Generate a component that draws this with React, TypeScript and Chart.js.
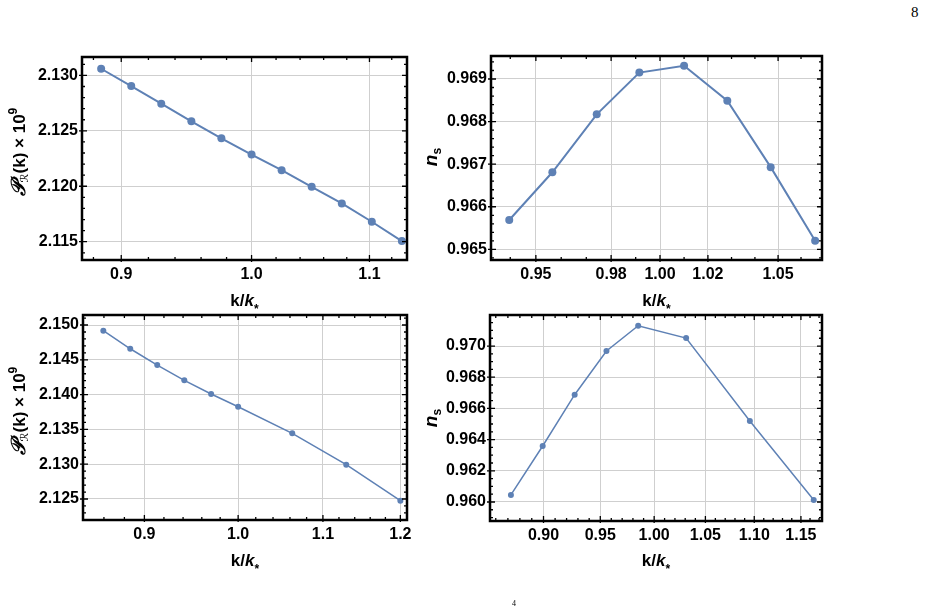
import React, { useEffect, useRef } from "react";
import { Chart, registerables } from "chart.js";
Chart.register(...registerables);

const FONT = "'Liberation Sans', Arial, Helvetica, sans-serif";
const BLUE = "#5E81B5";

// ---- data ----
const kTopPower = [0.8855, 0.9073, 0.9296, 0.9525, 0.9759, 1.0, 1.0246, 1.0498, 1.0757, 1.1021, 1.1292];
const powerTop = [2.1306, 2.12904, 2.12745, 2.12586, 2.12433, 2.12286, 2.12145, 2.11995, 2.11845, 2.1168, 2.11506];
const kTopNs = [0.9396, 0.9565, 0.9742, 0.9915, 1.01, 1.0282, 1.0468, 1.0662];
const nsTop = [0.96569, 0.96681, 0.96817, 0.96915, 0.96931, 0.96849, 0.96693, 0.9652];
const kBottomPower = [0.8594, 0.8858, 0.9131, 0.9413, 0.9701, 1.0, 1.0627, 1.1292, 1.2];
const powerBottom = [2.14918, 2.14659, 2.14425, 2.14205, 2.14009, 2.13826, 2.13444, 2.12993, 2.12476];
const kBottomNs = [0.8725, 0.8993, 0.9271, 0.9556, 0.9849, 1.0309, 1.0954, 1.1641];
const nsBottom = [0.96045, 0.96359, 0.96688, 0.96968, 0.9713, 0.97051, 0.96519, 0.96013];

// ---- tick labels ----
const xTicksTopPower = ["0.9", "1.0", "1.1"];
const yTicksTopPower = ["2.115", "2.120", "2.125", "2.130"];
const xTicksTopNs = ["0.95", "0.98", "1.00", "1.02", "1.05"];
const yTicksTopNs = ["0.965", "0.966", "0.967", "0.968", "0.969"];
const xTicksBottomPower = ["0.9", "1.0", "1.1", "1.2"];
const yTicksBottomPower = ["2.125", "2.130", "2.135", "2.140", "2.145", "2.150"];
const xTicksBottomNs = ["0.90", "0.95", "1.00", "1.05", "1.10", "1.15"];
const yTicksBottomNs = ["0.960", "0.962", "0.964", "0.966", "0.968", "0.970"];

type Seg = { t: string; font: string; dy?: number };

type PanelDef = {
  box: [number, number, number, number];
  area: [number, number, number, number];
  xs: number[];
  ys: number[];
  xRange: [number, number];
  yRange: [number, number];
  xTicks: string[];
  yTicks: string[];
  xMinor: number;
  yMinor: number;
  radius: number;
  lw: number;
  yTitle: "P" | "n";
  yTitlePos: [number, number];
  xTitleY: number;
};

const panels: PanelDef[] = [
  {
    box: [0, 30, 460, 290], area: [82, 57, 407, 260],
    xs: kTopPower, ys: powerTop, xRange: [0.8719, 1.1339], yRange: [2.11335, 2.13166],
    xTicks: xTicksTopPower, yTicks: yTicksTopPower, xMinor: 0.02, yMinor: 0.001,
    radius: 4, lw: 2, yTitle: "P", yTitlePos: [25, 152], xTitleY: 306,
  },
  {
    box: [420, 30, 508, 290], area: [491, 56, 822, 260],
    xs: kTopNs, ys: nsTop, xRange: [0.93255, 1.06923], yRange: [0.96475, 0.96954],
    xTicks: xTicksTopNs, yTicks: yTicksTopNs, xMinor: 0.01, yMinor: 0.0002,
    radius: 4, lw: 2, yTitle: "n", yTitlePos: [437, 157], xTitleY: 306,
  },
  {
    box: [0, 290, 460, 300], area: [83, 315, 407, 520],
    xs: kBottomPower, ys: powerBottom, xRange: [0.84, 1.209], yRange: [2.12198, 2.15144],
    xTicks: xTicksBottomPower, yTicks: yTicksBottomPower, xMinor: 0.02, yMinor: 0.001,
    radius: 3, lw: 1.5, yTitle: "P", yTitlePos: [25, 411], xTitleY: 566,
  },
  {
    box: [420, 290, 508, 300], area: [490, 315, 822, 521],
    xs: kBottomNs, ys: nsBottom, xRange: [0.8553, 1.1733], yRange: [0.95878, 0.97199],
    xTicks: xTicksBottomNs, yTicks: yTicksBottomNs, xMinor: 0.01, yMinor: 0.0005,
    radius: 3, lw: 1.5, yTitle: "n", yTitlePos: [437, 418], xTitleY: 566,
  },
];

function drawRich(ctx: CanvasRenderingContext2D, segs: Seg[], x: number, y: number, rotate: boolean) {
  ctx.save();
  ctx.translate(x, y);
  if (rotate) ctx.rotate(-Math.PI / 2);
  let total = 0;
  const widths = segs.map((s) => {
    ctx.font = s.font;
    const w = ctx.measureText(s.t).width;
    total += w;
    return w;
  });
  let cx = -total / 2;
  ctx.textBaseline = "alphabetic";
  ctx.textAlign = "left";
  ctx.fillStyle = "#000";
  segs.forEach((s, i) => {
    ctx.font = s.font;
    ctx.fillText(s.t, cx, s.dy || 0);
    cx += widths[i];
  });
  ctx.restore();
}

const powerTitle: Seg[] = [
  { t: "𝒫", font: "bold italic 20px 'DejaVu Serif', serif", dy: 0 },
  { t: "ℛ", font: "11px 'DejaVu Sans', sans-serif", dy: 3 },
  { t: "(k) × 10", font: `bold 17px ${FONT}`, dy: 0 },
  { t: "9", font: `bold 12px ${FONT}`, dy: -8 },
];
const nsTitle: Seg[] = [
  { t: "n", font: `bold italic 19px ${FONT}`, dy: 0 },
  { t: "s", font: `bold 12px ${FONT}`, dy: 4 },
];
const kTitle: Seg[] = [
  { t: "k/", font: `bold 17px ${FONT}`, dy: 0 },
  { t: "k", font: `bold italic 17px ${FONT}`, dy: 0 },
  { t: "*", font: `bold 12px ${FONT}`, dy: 7 },
];

function minorValues(min: number, max: number, step: number) {
  const out: number[] = [];
  for (let i = Math.ceil(min / step - 1e-9); i * step <= max + 1e-12; i++) out.push(i * step);
  return out;
}

function makeDecor(p: PanelDef) {
  return {
    id: "decor",
    afterDraw(chart: any) {
      const ctx: CanvasRenderingContext2D = chart.ctx;
      const { left, top, right, bottom } = chart.chartArea;
      const sx = chart.scales.x;
      const sy = chart.scales.y;
      ctx.save();
      ctx.strokeStyle = "#000";
      ctx.lineWidth = 1.3;
      const xMaj = p.xTicks.map(Number);
      const yMaj = p.yTicks.map(Number);
      const isMaj = (arr: number[], v: number) => arr.some((m) => Math.abs(m - v) < 1e-9);
      minorValues(p.xRange[0], p.xRange[1], p.xMinor).forEach((v) => {
        if (isMaj(xMaj, v)) return;
        const px = sx.getPixelForValue(v);
        if (px < left + 2 || px > right - 2) return;
        ctx.beginPath();
        ctx.moveTo(px, bottom); ctx.lineTo(px, bottom - 3);
        ctx.moveTo(px, top); ctx.lineTo(px, top + 3);
        ctx.stroke();
      });
      xMaj.forEach((v) => {
        const px = sx.getPixelForValue(v);
        ctx.beginPath();
        ctx.moveTo(px, bottom + 2); ctx.lineTo(px, bottom - 5);
        ctx.moveTo(px, top); ctx.lineTo(px, top + 5);
        ctx.stroke();
      });
      minorValues(p.yRange[0], p.yRange[1], p.yMinor).forEach((v) => {
        if (isMaj(yMaj, v)) return;
        const py = sy.getPixelForValue(v);
        if (py < top + 2 || py > bottom - 2) return;
        ctx.beginPath();
        ctx.moveTo(left, py); ctx.lineTo(left + 3, py);
        ctx.moveTo(right, py); ctx.lineTo(right - 3, py);
        ctx.stroke();
      });
      yMaj.forEach((v) => {
        const py = sy.getPixelForValue(v);
        ctx.beginPath();
        ctx.moveTo(left - 3, py); ctx.lineTo(left + 5, py);
        ctx.moveTo(right, py); ctx.lineTo(right - 5, py);
        ctx.stroke();
      });
      ctx.lineWidth = 2.5;
      ctx.strokeRect(left, top, right - left, bottom - top);
      ctx.restore();
      const [bx, by] = p.box;
      drawRich(ctx, kTitle, (left + right) / 2, p.xTitleY - by, false);
      drawRich(ctx, p.yTitle === "P" ? powerTitle : nsTitle, p.yTitlePos[0] - bx, p.yTitlePos[1] - by, true);
    },
  };
}

function Panel({ p }: { p: PanelDef }) {
  const ref = useRef<HTMLCanvasElement | null>(null);
  useEffect(() => {
    if (!ref.current) return;
    const [bx, by, bw, bh] = p.box;
    const [l, t, r, b] = p.area;
    const yW = l - bx;
    const padTop = t - by;
    const padRight = bw - (r - bx);
    const xH = by + bh - b;
    const tickFont = { family: FONT, size: 16, weight: "bold" as const };
    const xVals = p.xTicks.map(Number);
    const yVals = p.yTicks.map(Number);
    const chart = new Chart(ref.current, {
      type: "scatter",
      data: {
        datasets: [
          {
            data: p.xs.map((x, i) => ({ x, y: p.ys[i] })),
            showLine: true,
            borderColor: BLUE,
            backgroundColor: BLUE,
            borderWidth: p.lw,
            pointRadius: p.radius,
            pointBackgroundColor: BLUE,
            pointBorderWidth: 0,
            clip: false as any,
          },
        ],
      },
      options: {
        responsive: false,
        animation: false,
        devicePixelRatio: 1,
        layout: { padding: { left: 0, top: padTop, right: padRight, bottom: 0 } },
        plugins: { legend: { display: false }, tooltip: { enabled: false } },
        scales: {
          x: {
            type: "logarithmic",
            min: p.xRange[0],
            max: p.xRange[1],
            bounds: "data",
            afterFit: (s: any) => { s.height = xH; },
            afterBuildTicks: (s: any) => { s.ticks = xVals.map((v) => ({ value: v })); },
            ticks: {
              callback: (v: any) => p.xTicks.find((t) => Math.abs(Number(t) - Number(v)) < 1e-9) ?? "",
              font: tickFont,
              color: "#000",
              padding: 5,
              autoSkip: false,
              maxRotation: 0,
            },
            grid: { color: "#cfcfcf", lineWidth: 1, drawTicks: false },
            border: { display: false },
          },
          y: {
            type: "linear",
            min: p.yRange[0],
            max: p.yRange[1],
            afterFit: (s: any) => { s.width = yW; },
            afterBuildTicks: (s: any) => { s.ticks = yVals.map((v) => ({ value: v })); },
            ticks: {
              callback: (v: any) => p.yTicks.find((t) => Math.abs(Number(t) - Number(v)) < 1e-9) ?? "",
              font: tickFont,
              color: "#000",
              padding: 4,
              autoSkip: false,
            },
            grid: { color: "#cfcfcf", lineWidth: 1, drawTicks: false },
            border: { display: false },
          },
        },
      } as any,
      plugins: [makeDecor(p)],
    });
    return () => chart.destroy();
  }, [p]);
  const [bx, by, bw, bh] = p.box;
  return (
    <canvas
      ref={ref}
      width={bw}
      height={bh}
      style={{ position: "absolute", left: bx, top: by, width: bw, height: bh }}
    />
  );
}

export default function App() {
  return (
    <div
      style={{
        position: "fixed",
        left: 0,
        top: 0,
        width: 928,
        height: 614,
        background: "#fff",
        overflow: "hidden",
      }}
    >
      {panels.map((p, i) => (
        <Panel key={i} p={p} />
      ))}
      <div
        style={{
          position: "absolute",
          left: 911,
          top: 5,
          fontFamily: "'Liberation Serif', 'DejaVu Serif', serif",
          fontSize: 15,
          lineHeight: "15px",
          color: "#000",
        }}
      >
        8
      </div>
      <div
        style={{
          position: "absolute",
          left: 512,
          top: 600,
          fontFamily: "'Liberation Serif', 'DejaVu Serif', serif",
          fontSize: 8,
          lineHeight: "8px",
          color: "#000",
        }}
      >
        4
      </div>
    </div>
  );
}
